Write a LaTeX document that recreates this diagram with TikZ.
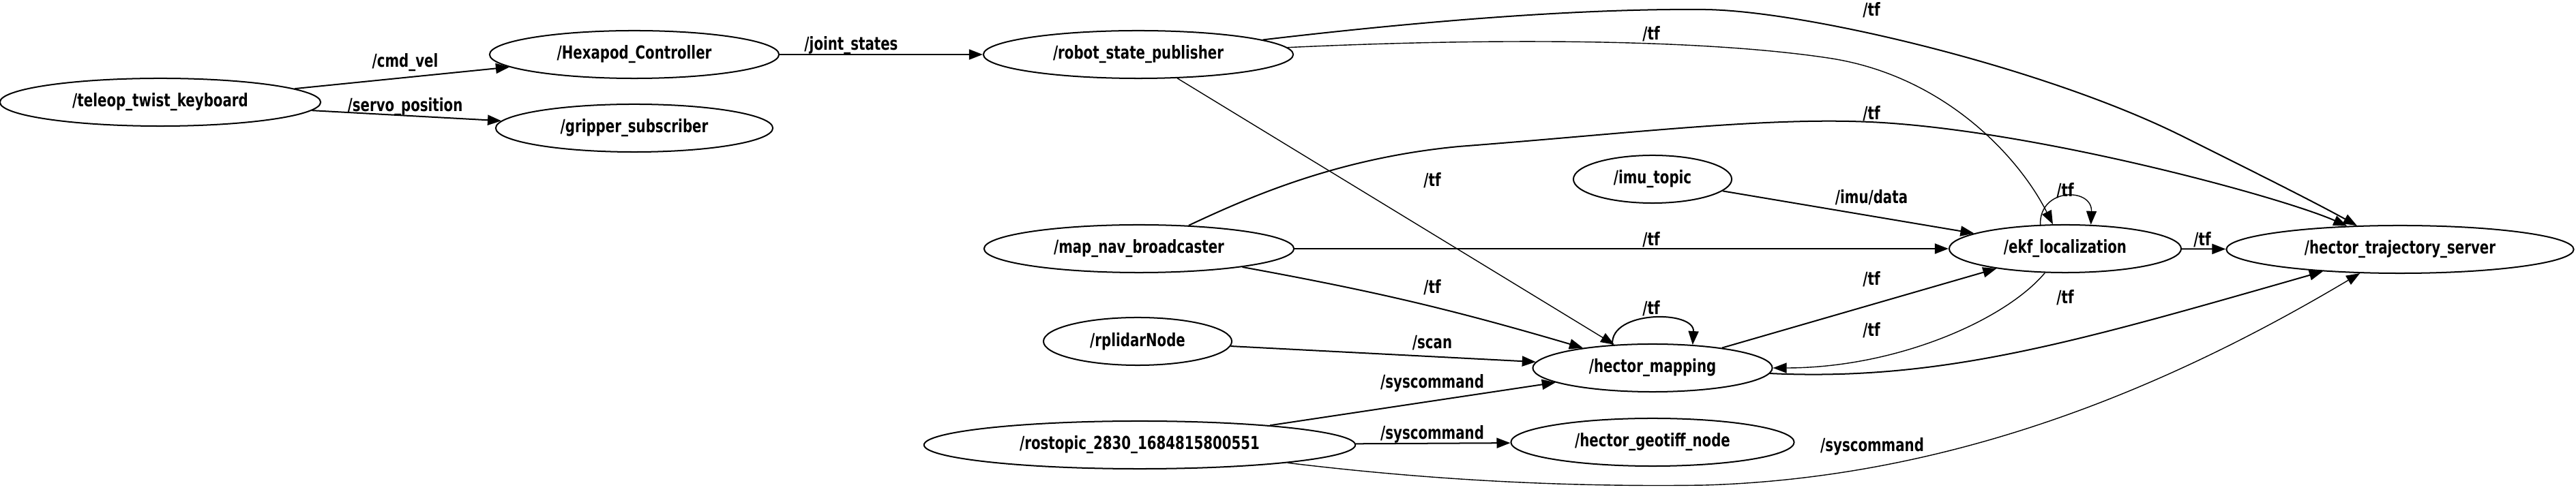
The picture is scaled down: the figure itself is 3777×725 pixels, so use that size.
\documentclass[tikz,border=0pt]{standalone}
\usepackage{fontspec}
\newfontfamily\rosfont{DejaVu Sans}[FakeStretch=0.75]
\usetikzlibrary{arrows.meta,shapes.geometric}
\tikzset{
  rosnode/.style={ellipse,draw,line width=0.57pt,inner sep=0pt,minimum height=0.7cm,
                  font=\rosfont\bfseries\fontsize{7.5}{9}\selectfont},
  topic/.style={font=\rosfont\bfseries\fontsize{7.5}{9}\selectfont,inner sep=0pt},
  pub/.style={-{Triangle[length=0.2cm,width=0.15cm]},line width=0.57pt},
  thinpub/.style={pub,line width=0.4pt},
}

\begin{document}
\begin{tikzpicture}[x=0.01cm,y=-0.01cm]
  \useasboundingbox (0,0) rectangle (3777,725);

  % ---------- nodes ----------
  \node[rosnode,minimum width=4.70cm] (tk)  at (235,150)  {/teleop\_twist\_keyboard};
  \node[rosnode,minimum width=4.24cm] (hc)  at (930,80)   {/Hexapod\_Controller};
  \node[rosnode,minimum width=4.06cm] (gs)  at (930,188)  {/gripper\_subscriber};
  \node[rosnode,minimum width=4.54cm] (rsp) at (1669,80)  {/robot\_state\_publisher};
  \node[rosnode,minimum width=4.54cm] (mnb) at (1670,365) {/map\_nav\_broadcaster};
  \node[rosnode,minimum width=2.32cm] (imu) at (2423,263) {/imu\_topic};
  \node[rosnode,minimum width=3.40cm] (ekf) at (3028,365) {/ekf\_localization};
  \node[rosnode,minimum width=5.09cm] (hts) at (3519,366) {/hector\_trajectory\_server};
  \node[rosnode,minimum width=2.76cm] (rpl) at (1668,501) {/rplidarNode};
  \node[rosnode,minimum width=3.51cm] (hm)  at (2423,540) {/hector\_mapping};
  \node[rosnode,minimum width=6.32cm] (rt)  at (1671,653) {/rostopic\_2830\_1684815800551};
  \node[rosnode,minimum width=4.15cm] (geo) at (2423,649) {/hector\_geotiff\_node};

  % ---------- topics ----------
  \draw[pub] (tk) -- (hc);
  \draw[pub] (tk) -- (gs);
  \draw[pub] (hc) -- (rsp);
  \draw[pub] (rsp) .. controls (2050,35) and (2300,12) .. (2500,14)
                   .. controls (2650,16) and (3000,100) .. (3200,200)
                   .. controls (3280,240) and (3385,292) .. (hts);
  \draw[thinpub] (rsp) .. controls (2200,55) and (2500,58) .. (2680,85)
                       .. controls (2850,110) and (2960,230) .. (ekf);
  \draw[pub] (mnb) .. controls (1830,290) and (1960,232) .. (2139,215)
                   .. controls (2400,195) and (2600,170) .. (2760,180)
                   .. controls (3000,195) and (3347,290) .. (hts);
  \draw[thinpub] (rsp) -- (hm);
  \draw[pub] (mnb) -- (ekf);
  \draw[pub] (mnb) to[bend left=3] (hm);
  \draw[pub] (rpl) -- (hm);
  \draw[pub] (rt) -- (hm);
  \draw[pub] (rt) -- (geo);
  \draw[pub] (imu) -- (ekf);
  \draw[pub] (ekf) -- (hts);
  \draw[pub] (hm) -- (ekf);
  \draw[thinpub] (ekf) .. controls (2940,470) and (2780,540) .. (hm);
  \draw[pub] (hm) .. controls (2850,560) and (3050,500) .. (hts);
  \draw[thinpub] (rt) .. controls (2100,705) and (2300,715) .. (2500,712)
                      .. controls (2850,701) and (3160,580) .. (hts);
  % self loops
  \draw[thinpub] (ekf.136) .. controls (2990,275) and (3068,275) .. (ekf.43);
  \draw[pub] (hm.150) .. controls (2360,455) and (2485,455) .. (hm.30);

  % ---------- labels ----------
  \node[topic] (lcmd)   at (594,92)   {/cmd\_vel};
  \node[topic] (lservo) at (594,157)  {/servo\_position};
  \node[topic] (ljoint) at (1248,67)  {/joint\_states};
  \node[topic] (limu)   at (2744,290) {/imu/data};
  \node[topic] (lscan)  at (2100,503) {/scan};
  \foreach \p [count=\i] in {(2100,562),(2100,637),(2745,655)}
    \node[topic] (lsys\i) at \p {/syscommand};
  \foreach \p [count=\i] in {(2744,15),(2421,50),(2744,167),(2100,265),(3028,280),(2421,352),
                             (3229,352),(2744,410),(2100,422),(3028,437),(2421,453),(2744,485)}
    \node[topic] (ltf\i) at \p {/tf};
\end{tikzpicture}
\end{document}
